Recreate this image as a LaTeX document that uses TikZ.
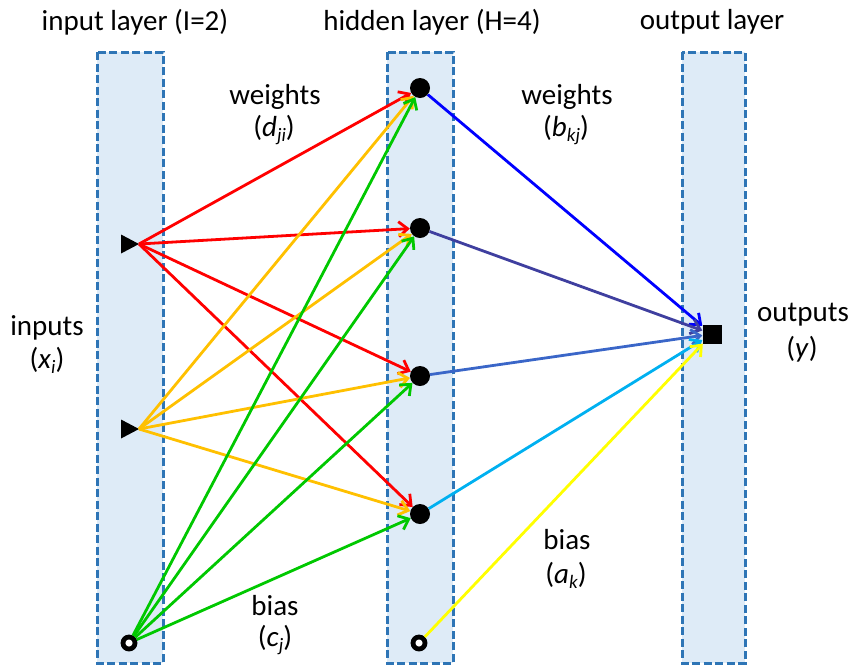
\documentclass[tikz,border=0pt]{standalone}
\usepackage{fontspec}
\setmainfont{Carlito}
\usetikzlibrary{arrows.meta}
\definecolor{bandfill}{HTML}{DEEBF7}
\definecolor{bandline}{HTML}{2E75B6}
\definecolor{cred}{HTML}{FF0000}
\definecolor{corange}{HTML}{FFC000}
\definecolor{cgreen}{HTML}{00C800}
\definecolor{cblueA}{HTML}{0000FF}
\definecolor{cblueB}{HTML}{3F3F9F}
\definecolor{cblueC}{HTML}{3A66C8}
\definecolor{cblueD}{HTML}{00B0F0}
\definecolor{cyel}{HTML}{FFFF00}
\newcommand{\mysub}[1]{{\fontsize{19}{19}\selectfont\raisebox{-5pt}{\textit{#1}}}}
\begin{document}
\begin{tikzpicture}[x=1pt,y=-1pt,
  band/.style={fill=bandfill,draw=bandline,line width=3pt,dash pattern=on 8pt off 3.5pt},
  hid/.style={circle,fill=black,inner sep=0pt,minimum size=20pt},
  biasnode/.style={circle,draw=black,fill=white,line width=4.8pt,inner sep=0pt,minimum size=12pt},
  outnode/.style={rectangle,fill=black,inner sep=0pt,minimum size=19pt},
  conn/.style={line width=2.8pt,-{Straight Barb[length=9pt,width=15pt]}},
  lab/.style={font=\fontsize{29}{33}\selectfont,align=center,inner sep=0pt}
]
\useasboundingbox (0,0) rectangle (850,665);
% bands
\path[band] (97,52) rectangle (163,663);
\path[band] (387,52) rectangle (453,663);
\path[band] (682,52) rectangle (745,663);
% input nodes
\coordinate (x1) at (139,244);
\coordinate (x2) at (139,429);
\fill (x1) -- ++(-18,-9.5) -- ++(0,19) -- cycle;
\fill (x2) -- ++(-18,-9.5) -- ++(0,19) -- cycle;
\node[biasnode] (b0) at (129,643) {};
% hidden nodes
\node[hid] (h1) at (420,88) {};
\node[hid] (h2) at (420,228) {};
\node[hid] (h3) at (420,376) {};
\node[hid] (h4) at (420,514) {};
\node[biasnode] (hb) at (419,643) {};
% output
\node[outnode] (y) at (712,334) {};
% connectors input->hidden
\foreach \h in {h1,h2,h3,h4} \draw[conn,cred] (x1) -- (\h);
\foreach \h in {h1,h2,h3,h4} \draw[conn,corange] (x2) -- (\h);
\foreach \h in {h1,h2,h3,h4} \draw[conn,cgreen] (b0) -- (\h);
% hidden->output
\draw[conn,cblueA] (h1) -- (y);
\draw[conn,cblueB] (h2) -- (y);
\draw[conn,cblueC] (h3) -- (y);
\draw[conn,cblueD] (h4) -- (y);
\draw[conn,cyel] (hb) -- (y);
% labels
\node[lab] (t1) at (135,22) {input layer (I=2)};
\node[lab] (t2) at (432,22) {hidden layer (H=4)};
\node[lab] (t3) at (712,22) {output layer};
\node[lab] (w1) at (275,97) {weights};
\node[lab] (w1s) at (274,130) {(\textit{d}\mysub{ji})};
\node[lab] (w2) at (567,97) {weights};
\node[lab] (w2s) at (566,130) {(\textit{b}\mysub{kj})};
\node[lab] (in1) at (47,328) {inputs};
\node[lab] (in2) at (47,360) {(\textit{x}\mysub{i})};
\node[lab] (o1) at (803,315) {outputs};
\node[lab] (o2) at (802,349) {(\textit{y})};
\node[lab] (bi1) at (275,606) {bias};
\node[lab] (bi1s) at (275,640) {(\textit{c}\mysub{j})};
\node[lab] (bi2) at (567,540) {bias};
\node[lab] (bi2s) at (566,575) {(\textit{a}\mysub{k})};
\end{tikzpicture}
\end{document}
